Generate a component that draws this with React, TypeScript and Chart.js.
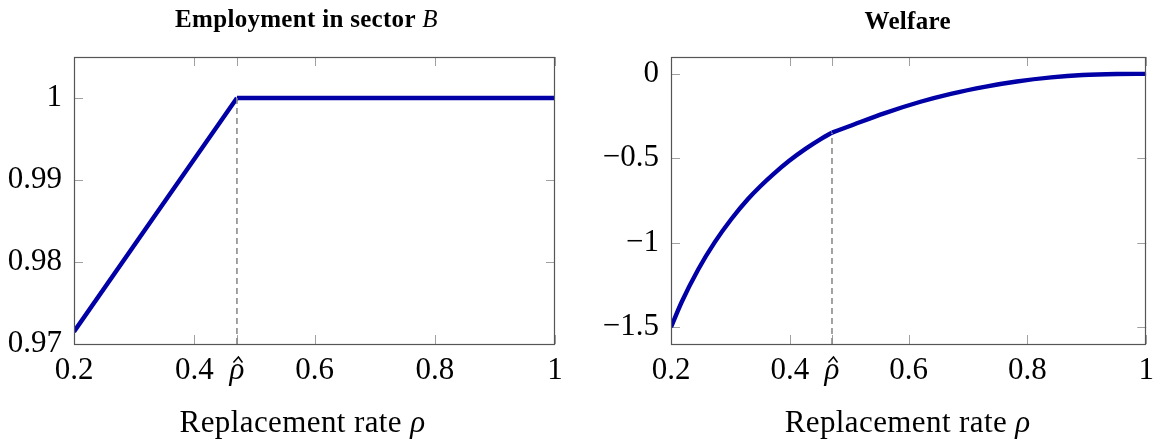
import React, { useEffect, useRef } from 'react';
import { Chart, registerables } from 'chart.js';

Chart.register(...registerables);

// ---------- data ----------
const RHO_HAT = 0.471;
const X_TICKS = [0.2, 0.4, RHO_HAT, 0.6, 0.8, 1];

const EMP_RHO = [0.2, RHO_HAT, 1.0];
const EMP_VALUES = [0.9715, 1.0, 1.0];
const EMP_Y_TICKS = [0.97, 0.98, 0.99, 1];
const EMP_Y_RANGE = [0.97, 1.005];

const WEL_RHO = [0.2, 0.218, 0.246, 0.274, 0.302, 0.33, 0.35, 0.371, 0.399, 0.427, 0.454, RHO_HAT, 0.5, 0.56, 0.62, 0.671, 0.73, 0.782, 0.84, 0.893, 0.95, 1.0];
const WEL_VALUES = [-1.5, -1.351, -1.157, -0.995, -0.858, -0.74, -0.667, -0.598, -0.515, -0.443, -0.382, -0.348, -0.31, -0.232, -0.165, -0.118, -0.075, -0.045, -0.021, -0.007, -0.001, 0];
const WEL_Y_TICKS = [-1.5, -1, -0.5, 0];
const WEL_Y_RANGE = [-1.6, 0.1];

const X_RANGE = [0.2, 1];

// ---------- styles ----------
const FAMILY = "'Liberation Serif', 'DejaVu Serif', serif";
const LINE_COLOR = '#0000a6';
const DASH_COLOR = '#8c8c8c';
const FRAME_COLOR = '#555555';
const TICK_COLOR = '#a0a0a0';
const TICK_LEN = 9;
const LABEL_SIZE = 31;
const TITLE_SIZE = 25;

type Part = { text: string; font: string };

function drawRich(ctx: CanvasRenderingContext2D, parts: Part[], cx: number, baseline: number, spacing = 0) {
  (ctx as any).letterSpacing = `${spacing}px`;
  let total = 0;
  const widths = parts.map((p) => {
    ctx.font = p.font;
    const w = ctx.measureText(p.text).width;
    total += w;
    return w;
  });
  let x = cx - total / 2;
  ctx.textAlign = 'left';
  ctx.textBaseline = 'alphabetic';
  ctx.fillStyle = '#000';
  parts.forEach((p, i) => {
    ctx.font = p.font;
    ctx.fillText(p.text, x, baseline);
    x += widths[i];
  });
  (ctx as any).letterSpacing = '0px';
}

const framePlugin = {
  id: 'pgfFrame',
  beforeDatasetsDraw(chart: any) {
    const { ctx, chartArea: a, scales } = chart;
    ctx.save();
    ctx.strokeStyle = TICK_COLOR;
    ctx.lineWidth = 1;
    ctx.beginPath();
    for (const t of scales.x.ticks) {
      const px = Math.round(scales.x.getPixelForValue(t.value)) + 0.5;
      ctx.moveTo(px, a.bottom);
      ctx.lineTo(px, a.bottom - TICK_LEN);
      ctx.moveTo(px, a.top);
      ctx.lineTo(px, a.top + TICK_LEN);
    }
    for (const t of scales.y.ticks) {
      const py = Math.round(scales.y.getPixelForValue(t.value)) + 0.5;
      ctx.moveTo(a.left, py);
      ctx.lineTo(a.left + TICK_LEN, py);
      ctx.moveTo(a.right, py);
      ctx.lineTo(a.right - TICK_LEN, py);
    }
    ctx.stroke();
    ctx.restore();
  },
  afterDraw(chart: any, _args: any, opts: any) {
    const { ctx, chartArea: a, scales } = chart;
    ctx.save();
    ctx.strokeStyle = FRAME_COLOR;
    ctx.lineWidth = 1.2;
    ctx.strokeRect(Math.round(a.left) + 0.5, Math.round(a.top) + 0.5, Math.round(a.width) - 1, Math.round(a.height));
    // hat over the rho-hat tick label
    const hx = scales.x.getPixelForValue(RHO_HAT);
    const hy = a.bottom + 13;
    ctx.strokeStyle = '#000';
    ctx.lineWidth = 1.5;
    ctx.lineJoin = 'miter';
    ctx.beginPath();
    ctx.moveTo(hx - 3.5, hy + 5.5);
    ctx.lineTo(hx + 1.5, hy);
    ctx.lineTo(hx + 5.5, hy + 5.5);
    ctx.stroke();
    const cx = (a.left + a.right) / 2;
    drawRich(ctx, opts.title, cx + opts.titleDx, opts.titleBaseline, 0.3);
    drawRich(
      ctx,
      [
        { text: 'Replacement rate ', font: `${LABEL_SIZE}px ${FAMILY}` },
        { text: 'ρ', font: `italic ${LABEL_SIZE}px ${FAMILY}` },
      ],
      cx + opts.xlabelDx,
      opts.xlabelBaseline,
      0.4
    );
    ctx.restore();
  },
};

function makeConfig(
  rho: number[],
  values: number[],
  yTicks: number[],
  yRange: number[],
  yFmt: (v: number) => string,
  yWidth: number,
  padRight: number,
  title: Part[],
  titleDx: number,
  titleBaseline: number,
  xlabelDx: number
) {
  const kinkIdx = rho.indexOf(RHO_HAT);
  const low = rho.slice(0, kinkIdx + 1).map((x, i) => ({ x, y: values[i] }));
  const high = rho.slice(kinkIdx).map((x, i) => ({ x, y: values[kinkIdx + i] }));
  const dash = [
    { x: RHO_HAT, y: yRange[0] },
    { x: RHO_HAT, y: values[kinkIdx] },
  ];
  const lineStyle = {
    borderColor: LINE_COLOR,
    borderWidth: 4.4,
    pointRadius: 0,
    borderJoinStyle: 'round' as const,
    cubicInterpolationMode: 'monotone' as const,
    fill: false,
  };
  return {
    type: 'line' as const,
    data: {
      datasets: [
        { ...lineStyle, data: low, order: 2 },
        { ...lineStyle, data: high, order: 2 },
        {
          data: dash,
          borderColor: DASH_COLOR,
          borderWidth: 1.6,
          borderDash: [6, 4],
          pointRadius: 0,
          fill: false,
          order: 1,
        },
      ],
    },
    options: {
      responsive: false,
      animation: false as const,
      events: [],
      layout: { padding: { top: 57, right: padRight, left: 0, bottom: 0 } },
      plugins: {
        legend: { display: false },
        tooltip: { enabled: false },
        title: { display: false },
        pgfFrame: { title, titleDx, titleBaseline, xlabelDx, xlabelBaseline: 432 },
      },
      scales: {
        x: {
          type: 'linear' as const,
          min: X_RANGE[0],
          max: X_RANGE[1],
          grid: { display: false, drawTicks: false },
          border: { display: false },
          afterBuildTicks: (axis: any) => {
            axis.ticks = X_TICKS.map((v) => ({ value: v }));
          },
          afterFit: (axis: any) => {
            axis.height = 100;
          },
          ticks: {
            autoSkip: false,
            maxRotation: 0,
            padding: 8,
            color: '#000',
            font: (c: any) =>
              c.tick && c.tick.value === RHO_HAT
                ? { family: FAMILY, size: LABEL_SIZE, style: 'italic' }
                : { family: FAMILY, size: LABEL_SIZE },
            callback: (v: number) => (v === RHO_HAT ? 'ρ' : v === 1 ? '1' : String(v)),
          },
        },
        y: {
          type: 'linear' as const,
          min: yRange[0],
          max: yRange[1],
          grid: { display: false, drawTicks: false },
          border: { display: false },
          afterBuildTicks: (axis: any) => {
            axis.ticks = yTicks.map((v) => ({ value: v }));
          },
          afterFit: (axis: any) => {
            axis.width = yWidth;
          },
          ticks: {
            padding: 12,
            color: '#000',
            font: { family: FAMILY, size: LABEL_SIZE },
            callback: (v: number) => yFmt(v),
          },
        },
      },
    },
    plugins: [framePlugin],
  };
}

function ChartCanvas({ config, left }: { config: any; left: number }) {
  const ref = useRef<HTMLCanvasElement | null>(null);
  useEffect(() => {
    if (!ref.current) return;
    const chart = new Chart(ref.current, config);
    return () => chart.destroy();
  }, [config]);
  return (
    <canvas
      ref={ref}
      width={581}
      height={444}
      style={{ position: 'absolute', left, top: 0, width: 581, height: 444, display: 'block' }}
    />
  );
}

const empConfig = makeConfig(
  EMP_RHO,
  EMP_VALUES,
  EMP_Y_TICKS,
  EMP_Y_RANGE,
  (v) => (v === 1 ? '1' : v.toFixed(2)),
  74,
  26,
  [
    { text: 'Employment in sector ', font: `bold ${TITLE_SIZE}px ${FAMILY}` },
    { text: 'B', font: `italic ${TITLE_SIZE}px ${FAMILY}` },
  ],
  -8,
  27,
  -12
);

const welConfig = makeConfig(
  WEL_RHO,
  WEL_VALUES,
  WEL_Y_TICKS,
  WEL_Y_RANGE,
  (v) => (v === 0 ? '0' : '\u2212' + String(Math.abs(v))),
  90,
  11,
  [{ text: 'Welfare', font: `bold ${TITLE_SIZE}px ${FAMILY}` }],
  -1,
  29,
  -1
);

export default function App() {
  return (
    <div style={{ position: 'fixed', left: 0, top: 0, width: 1162, height: 444, background: '#fff' }}>
      <ChartCanvas config={empConfig} left={0} />
      <ChartCanvas config={welConfig} left={581} />
    </div>
  );
}
